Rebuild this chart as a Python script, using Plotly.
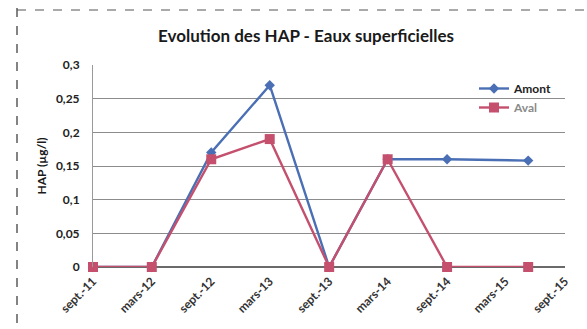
import plotly.graph_objects as go

# Sampling dates and HAP concentrations (µg/l)
dates = ["2011-09-01", "2012-03-01", "2012-09-01", "2013-03-01", "2013-09-01",
         "2014-03-01", "2014-09-01", "2015-05-10"]
amont = [0, 0, 0.17, 0.27, 0, 0.16, 0.16, 0.158]
aval = [0, 0, 0.16, 0.19, 0, 0.16, 0, 0]

tick_dates = ["2011-09-01", "2012-03-01", "2012-09-01", "2013-03-01", "2013-09-01",
              "2014-03-01", "2014-09-01", "2015-03-01", "2015-09-01"]
tick_labels = ["sept.-11", "mars-12", "sept.-12", "mars-13", "sept.-13",
               "mars-14", "sept.-14", "mars-15", "sept.-15"]
y_ticks = [0, 0.05, 0.1, 0.15, 0.2, 0.25, 0.3]

BLUE = "#4a6fb5"
PINK = "#c4506e"
FONT = "Lato"

fig = go.Figure()
fig.add_trace(go.Scatter(
    x=dates, y=amont, name="<b>Amont</b>", mode="lines+markers",
    line=dict(color=BLUE, width=2.4),
    marker=dict(symbol="diamond", size=8, color=BLUE),
    cliponaxis=False,
))
fig.add_trace(go.Scatter(
    x=dates, y=aval, name="<b><span style='color:#8a8a8a'>Aval</span></b>", mode="lines+markers",
    line=dict(color=PINK, width=2.4),
    marker=dict(symbol="square", size=10, color=PINK),
    cliponaxis=False,
))

L, R, T, B = 93, 22, 65, 62
W, H = 587, 329
pw, ph = W - L - R, H - T - B

def px_x(x):
    return (x - L) / pw

def px_y(y):
    return (H - B - y) / ph

fig.update_layout(
    width=W, height=H,
    margin=dict(l=L, r=R, t=T, b=B),
    paper_bgcolor="white", plot_bgcolor="white",
    separators=", ",
    font=dict(family=FONT, color="#222222"),
    title=dict(text="<b>Evolution des HAP - Eaux superficielles</b>",
               x=306 / W, xanchor="center", y=1 - 36 / H, yanchor="middle",
               font=dict(size=17, family=FONT, color="#1a1a1a")),
    showlegend=True,
    legend=dict(x=px_x(474), y=px_y(74), xanchor="left", yanchor="top",
                bgcolor="rgba(0,0,0,0)", font=dict(size=12, family=FONT, color="#222222"),
                itemwidth=30, tracegroupgap=2),
    xaxis=dict(
        type="date",
        range=["2011-09-01", "2015-09-01"],
        tickvals=tick_dates, ticktext=["<b>%s</b>" % t for t in tick_labels],
        tickangle=-45, tickfont=dict(size=12, color="#333333"),
        showgrid=False, showline=False, zeroline=False,
        ticks="", ticklabelstandoff=4,
    ),
    yaxis=dict(
        range=[0, 0.3], tickvals=y_ticks,
        ticktext=["<b>%s</b>" % str(v).replace(".", ",") for v in y_ticks],
        tickfont=dict(size=12, color="#222222"),
        showgrid=True, gridcolor="#8c8c8c", gridwidth=1,
        zeroline=True, zerolinecolor="#6a6a6a", zerolinewidth=1.5,
        showline=True, linecolor="#9a9a9a", linewidth=1,
        ticks="", ticklabelstandoff=10,
        title=dict(text="<b>HAP (µg/l)</b>", font=dict(size=12, color="#1a1a1a"), standoff=6),
    ),
    shapes=[
        dict(type="line", xref="paper", yref="paper",
             x0=px_x(17), x1=px_x(17), y0=px_y(8), y1=px_y(329),
             line=dict(color="#333333", width=1.2, dash="dash")),
        dict(type="line", xref="paper", yref="paper",
             x0=px_x(17), x1=px_x(587), y0=px_y(10), y1=px_y(10),
             line=dict(color="#555555", width=1, dash="dash")),
    ],
)

fig.write_html("out.html")
